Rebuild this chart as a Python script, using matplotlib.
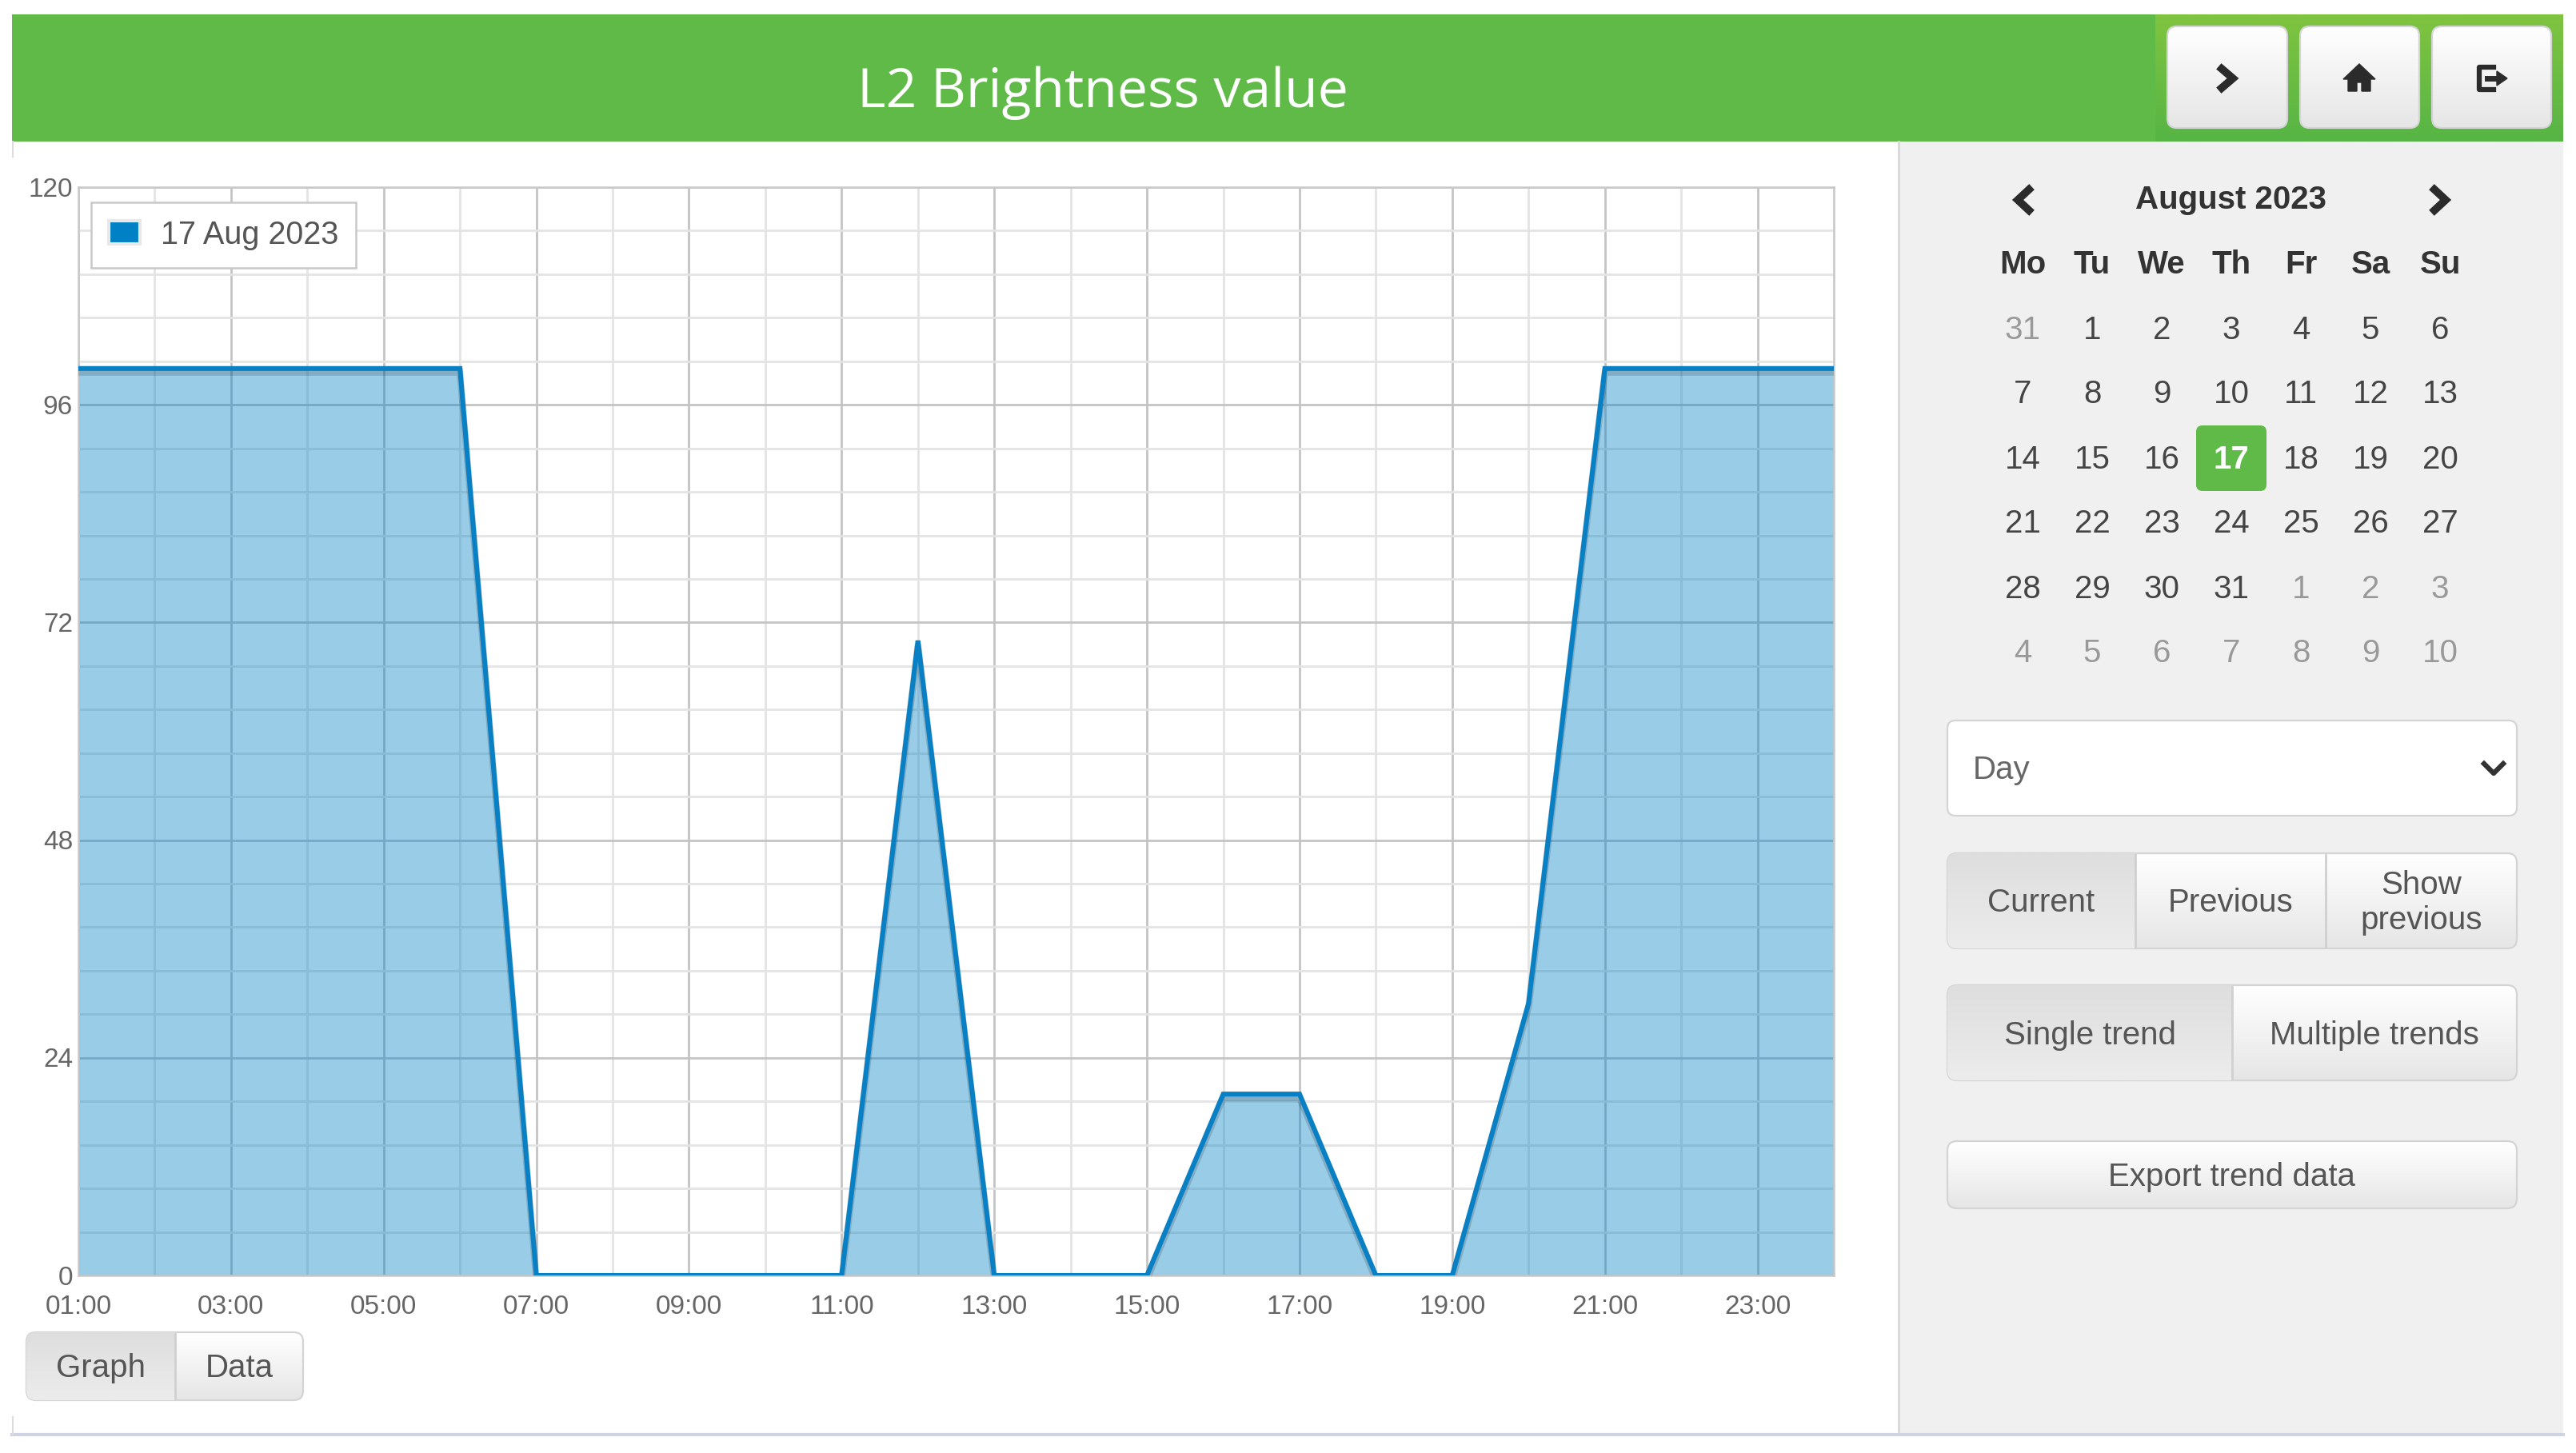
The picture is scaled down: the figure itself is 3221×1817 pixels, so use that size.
import numpy as np
import matplotlib
matplotlib.use('Agg')
import matplotlib.pyplot as plt
import matplotlib.patheffects as pe
from matplotlib.patches import FancyBboxPatch, Rectangle, Patch
from matplotlib.transforms import ScaledTranslation

W, H = 3221, 1817

plt.rcParams['font.family'] = ['Liberation Sans', 'DejaVu Sans']

title = 'L2 Brightness value'
hours = [1, 2, 3, 4, 5, 6, 7, 8, 9, 10, 11, 12, 13, 14, 15, 16, 17, 18, 19, 20, 21, 22, 23, 24]
brightness = [100, 100, 100, 100, 100, 100, 0, 0, 0, 0, 0, 70, 0, 0, 0, 20, 20, 0, 0, 30, 100, 100, 100, 100]
x_ticks = [1, 3, 5, 7, 9, 11, 13, 15, 17, 19, 21, 23]
x_labels = ['01:00', '03:00', '05:00', '07:00', '09:00', '11:00', '13:00', '15:00', '17:00', '19:00', '21:00', '23:00']
y_ticks = [0, 24, 48, 72, 96, 120]
legend_label = '17 Aug 2023'

month_label = 'August 2023'
weekdays = ['Mo', 'Tu', 'We', 'Th', 'Fr', 'Sa', 'Su']
weeks = [
    [31, 1, 2, 3, 4, 5, 6],
    [7, 8, 9, 10, 11, 12, 13],
    [14, 15, 16, 17, 18, 19, 20],
    [21, 22, 23, 24, 25, 26, 27],
    [28, 29, 30, 31, 1, 2, 3],
    [4, 5, 6, 7, 8, 9, 10],
]

GREEN = '#5fba47'
BLUE = '#0080c5'

fig = plt.figure(figsize=(W / 100, H / 100), dpi=100, facecolor='white')

# page furniture, in pixel coordinates
ui = fig.add_axes([0, 0, 1, 1], zorder=0)
ui.set_xlim(0, W)
ui.set_ylim(H, 0)
ui.axis('off')


def gradient(x0, y0, x1, y1, top, bottom, clip=None, z=2):
    c0 = np.array(matplotlib.colors.to_rgb(top))
    c1 = np.array(matplotlib.colors.to_rgb(bottom))
    t = np.linspace(0, 1, 64)[:, None, None]
    img = c0[None, None, :] * (1 - t) + c1[None, None, :] * t
    im = ui.imshow(img, extent=(x0, x1, y1, y0), aspect='auto', zorder=z, interpolation='bilinear')
    if clip is not None:
        im.set_clip_path(clip)
    ui.set_xlim(0, W)
    ui.set_ylim(H, 0)


def button(x0, y0, x1, y1, top='#ffffff', bottom='#e6e6e6', z=2):
    box = FancyBboxPatch((x0 + 8, y0 + 8), x1 - x0 - 16, y1 - y0 - 16,
                         boxstyle='round,pad=8,rounding_size=12',
                         facecolor='none', edgecolor='#d4d4d4', linewidth=1.6, zorder=z + 1)
    ui.add_patch(box)
    gradient(x0, y0, x1, y1, top, bottom, clip=box, z=z)


def group(x0, y0, x1, y1, splits, labels, active=0, size=29):
    button(x0, y0, x1, y1)
    edges = [x0] + splits + [x1]
    if active is not None:
        clip = FancyBboxPatch((x0 + 8, y0 + 8), x1 - x0 - 16, y1 - y0 - 16,
                              boxstyle='round,pad=8,rounding_size=12',
                              facecolor='none', edgecolor='none', zorder=1)
        ui.add_patch(clip)
        gradient(edges[active], y0, edges[active + 1], y1, '#dedede', '#ececec', clip=clip, z=3)
    for s in splits:
        ui.plot([s, s], [y0 + 2, y1 - 2], color='#d0d0d0', lw=2, zorder=4)
    for i, lab in enumerate(labels):
        ui.text((edges[i] + edges[i + 1]) / 2, (y0 + y1) / 2 + 3, lab, ha='center', va='center',
                fontsize=size, color='#555555', zorder=5, linespacing=1.2)


def chevron(cx, cy, direction, h=12, w=7, lw=7, color='#2b2b2b'):
    ui.plot([cx - direction * w, cx + direction * w, cx - direction * w],
            [cy - h, cy, cy + h], color=color, lw=lw, solid_joinstyle='miter', zorder=6)


# header bar
ui.add_patch(Rectangle((15, 18), 3190, 159, facecolor=GREEN, edgecolor='none', zorder=1))
gradient(2695, 18, 3205, 177, '#80c440', '#56b545', z=1.5)
ui.text(1379, 116, title, ha='center', va='center', fontsize=49, color='white',
        family='Open Sans', zorder=3)

# header buttons
button(2710, 33, 2860, 160)
button(2876, 33, 3025, 160)
button(3041, 33, 3190, 160)
chevron(2785, 98, 1)
ui.fill([2950, 2930, 2936, 2936, 2947, 2947, 2953, 2953, 2964, 2964, 2970],
        [80, 99, 99, 114, 114, 103, 103, 114, 114, 99, 99], color='#2b2b2b', zorder=6)
ui.plot([3118, 3100, 3100, 3118], [84, 84, 112, 112], color='#2b2b2b', lw=4.5, zorder=6,
        solid_joinstyle='round')
ui.plot([3110, 3124], [98, 98], color='#2b2b2b', lw=5, zorder=6)
ui.fill([3122, 3135, 3122], [89, 98, 107], color='#2b2b2b', zorder=6)

# side panel
ui.add_patch(Rectangle((2374, 177), 831, 1616, facecolor='#f0f0f0', edgecolor='none', zorder=0.5))
ui.plot([2374, 2374], [177, 1793], color='#d8d8d8', lw=2, zorder=1)
ui.plot([15, 3205], [1794, 1794], color='#cfd3e2', lw=3, zorder=1)
ui.plot([16, 16], [177, 196], color='#dddddd', lw=1.5, zorder=1)
ui.plot([16, 16], [1772, 1794], color='#dddddd', lw=1.5, zorder=1)

# calendar
col_x = [2529, 2616, 2703, 2790, 2877, 2964, 3051]
row_y = [413, 493, 575, 655, 737, 817]
chevron(2530, 250, -1, h=13, w=7)
chevron(3051, 250, 1, h=13, w=7)
ui.text(2789, 250, month_label, ha='center', va='center', fontsize=29, fontweight='bold', color='#333333', zorder=3)
for cx, day in zip(col_x, weekdays):
    ui.text(cx, 331, day, ha='center', va='center', fontsize=29, fontweight='bold', color='#333333', zorder=3)
ui.add_patch(FancyBboxPatch((2752, 538), 76, 70, boxstyle='round,pad=6,rounding_size=8',
                            facecolor=GREEN, edgecolor='none', zorder=2))
for r, week in enumerate(weeks):
    for c, day in enumerate(week):
        other = (r == 0 and day > 20) or (r >= 4 and day < 20)
        picked = r == 2 and day == 17
        ui.text(col_x[c], row_y[r], str(day), ha='center', va='center', fontsize=29, zorder=3,
                color='white' if picked else ('#999999' if other else '#444444'),
                fontweight='bold' if picked else 'normal')

# controls
ui.add_patch(FancyBboxPatch((2443, 909), 696, 103, boxstyle='round,pad=8,rounding_size=10',
                            facecolor='white', edgecolor='#d4d4d4', linewidth=1.6, zorder=2))
ui.text(2467, 963, 'Day', ha='left', va='center', fontsize=29, color='#666666', zorder=3)
ui.plot([3106, 3118, 3130], [955, 967, 955], color='#333333', lw=4.5, zorder=3)
group(2435, 1067, 3147, 1186, [2670, 2908], ['Current', 'Previous', 'Show\nprevious'])
group(2435, 1232, 3147, 1351, [2791], ['Single trend', 'Multiple trends'])
group(2435, 1427, 3147, 1511, [], ['Export trend data'], active=None)
group(33, 1666, 379, 1751, [219], ['Graph', 'Data'])

# the chart
PL, PR, PT, PB = 98, 2293, 234, 1595
ax = fig.add_axes([PL / W, 1 - PB / H, (PR - PL) / W, (PB - PT) / H], zorder=2)
ax.set_facecolor('white')
ax.set_xlim(hours[0], hours[-1])
ax.set_ylim(y_ticks[0], y_ticks[-1])
ax.set_xticks(x_ticks)
ax.set_xticklabels(x_labels)
ax.set_yticks(y_ticks)
ax.set_xticks(hours, minor=True)
ax.set_yticks(np.arange(0, 120.1, 4.8), minor=True)
ax.grid(True, which='major', color='#c4c4c4', lw=2, zorder=1)
ax.grid(True, which='minor', color='#e4e4e4', lw=2, zorder=0.5)
ax.set_axisbelow(True)
ax.tick_params(which='both', length=0)
ax.tick_params(axis='x', labelsize=24, labelcolor='#666666', pad=17)
ax.tick_params(axis='y', labelsize=24, labelcolor='#666666', pad=5)
nudge = ScaledTranslation(0, -3 / 100, fig.dpi_scale_trans)
for lab in ax.get_yticklabels():
    lab.set_verticalalignment('center')
    lab.set_transform(lab.get_transform() + nudge)
for s in ax.spines.values():
    s.set_color('#c9c9c9')
    s.set_linewidth(1.8)

ax.fill_between(hours, brightness, 0, color=BLUE, alpha=0.4, lw=0, zorder=2)
ax.plot(hours, brightness, color='#0a80c4', lw=4.4, zorder=3, solid_joinstyle='miter',
        path_effects=[pe.SimpleLineShadow(offset=(0, -3.5), shadow_color='k', alpha=0.15, linewidth=6),
                      pe.Normal()])

leg = ax.legend(handles=[Patch(facecolor=BLUE, edgecolor='#e8e8e8', linewidth=3, label=legend_label)],
                loc='upper left', bbox_to_anchor=(16 / (PR - PL), 1 - 19 / (PB - PT)), borderaxespad=0,
                fontsize=28.5, fancybox=False, framealpha=1, edgecolor='#c9c9c9',
                handlelength=1.0, handleheight=0.75, handletextpad=0.65, borderpad=0.55)
leg.get_frame().set_linewidth(1.8)
leg.set_zorder(5)
for t in leg.get_texts():
    t.set_color('#555555')

fig.savefig('out.png', dpi=100, facecolor='white')
